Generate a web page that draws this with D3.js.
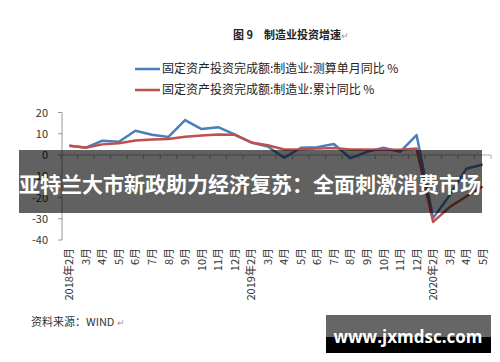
<!DOCTYPE html>
<html>
<head>
<meta charset="utf-8">
<script src="https://cdn.jsdelivr.net/npm/d3@7"></script>
<style>
  body { margin: 0; background: #fff; }
  svg { display: block; font-family: "Noto Sans CJK SC", "Noto Sans", sans-serif; }
</style>
</head>
<body>
<svg width="500" height="362"></svg>
<script>
// Month labels, 2018-02 .. 2020-05
const months = [
	"2018年2月", "3月", "4月", "5月", "6月", "7月", "8月", "9月", "10月", "11月", "12月",
	"2019年2月", "3月", "4月", "5月", "6月", "7月", "8月", "9月", "10月", "11月", "12月",
	"2020年2月", "3月", "4月", "5月"
];
// single-month yoy % (blue)
const singleMonth = [
	4.3, 3.5, 6.7, 6.2, 11.4, 9.5, 8.5, 16.4, 12.2, 13.1, 9.7,
	5.9, 4.0, -1.3, 3.4, 3.7, 5.2, -1.5, 1.5, 3.4, 1.5, 9.4,
	-29.7, -19.0, -6.5, -4.5
];
// cumulative yoy % (red)
const cumulative = [
	4.3, 3.4, 5.0, 5.5, 6.8, 7.3, 7.5, 8.6, 9.2, 9.7, 9.5,
	5.9, 4.6, 2.6, 2.7, 3.0, 3.3, 2.6, 2.6, 2.5, 2.5, 3.1,
	-31.5, -24.5, -19.5, -14.8
];
const yTicks = [20, 10, 0, -10, -20, -30, -40];
const seriesNames = [
	"固定资产投资完成额:制造业:测算单月同比 %",
	"固定资产投资完成额:制造业:累计同比 %"
];

const svg = d3.select("svg");

const x = d3.scaleBand()
	.domain(months.map((d, i) => i))
	.range([61, 491]);
const y = d3.scaleLinear()
	.domain([-40, 20])
	.range([240, 112.5]);

// title
svg.append("text")
	.attr("x", 233).attr("y", 39)
	.attr("font-size", 11).attr("font-weight", "bold").attr("fill", "#222")
	.text("图 9　制造业投资增速");
svg.append("text")
	.attr("x", 341).attr("y", 39)
	.attr("font-size", 9).attr("fill", "#999")
	.text("↵");

// legend
const colors = ["#4a7ebb", "#c0504d"];
seriesNames.forEach((name, i) => {
	const ly = 69 + i * 21;
	svg.append("line")
		.attr("x1", 135).attr("x2", 160)
		.attr("y1", ly).attr("y2", ly)
		.attr("stroke", colors[i]).attr("stroke-width", 2.5);
	svg.append("text")
		.attr("x", 162).attr("y", ly + 4)
		.attr("font-size", 12).attr("fill", "#222")
		.text(name);
});

// y axis
const yAxis = svg.append("g");
yAxis.append("line")
	.attr("x1", 62).attr("x2", 62)
	.attr("y1", y(20)).attr("y2", y(-40))
	.attr("stroke", "#999");
yAxis.selectAll(".ytick")
	.data(yTicks)
	.enter()
	.append("line")
	.attr("x1", 58).attr("x2", 62)
	.attr("y1", (d) => y(d)).attr("y2", (d) => y(d))
	.attr("stroke", "#999");
yAxis.selectAll("text")
	.data(yTicks)
	.enter()
	.append("text")
	.attr("x", 48).attr("y", (d) => y(d) + 4)
	.attr("text-anchor", "end")
	.attr("font-size", 11).attr("fill", "#333")
	.text((d) => d);

// x axis at zero
const xAxis = svg.append("g");
xAxis.append("line")
	.attr("x1", 62).attr("x2", 491)
	.attr("y1", y(0)).attr("y2", y(0))
	.attr("stroke", "#aaa");
xAxis.selectAll(".xtick")
	.data(months.map((d, i) => i).concat([months.length]))
	.enter()
	.append("line")
	.attr("x1", (d) => d < months.length ? x(d) : x(d - 1) + x.bandwidth())
	.attr("x2", (d) => d < months.length ? x(d) : x(d - 1) + x.bandwidth())
	.attr("y1", y(0)).attr("y2", y(0) + 4)
	.attr("stroke", "#aaa");
xAxis.selectAll("text")
	.data(months)
	.enter()
	.append("text")
	.attr("transform", (d, i) => `translate(${x(i) + x.bandwidth() / 2 + 4},248) rotate(-90)`)
	.attr("text-anchor", "end")
	.attr("font-size", 11).attr("fill", "#333")
	.text((d) => d);

// lines
const line = d3.line()
	.x((d, i) => x(i) + x.bandwidth() / 2)
	.y((d) => y(d));
[singleMonth, cumulative].forEach((data, i) => {
	svg.append("path")
		.datum(data)
		.attr("d", line)
		.attr("fill", "none")
		.attr("stroke", colors[i])
		.attr("stroke-width", 2.5)
		.attr("stroke-linejoin", "round");
});

// source
svg.append("text")
	.attr("x", 31).attr("y", 326)
	.attr("font-size", 11).attr("fill", "#333")
	.text("资料来源：WIND");
svg.append("text")
	.attr("x", 117).attr("y", 326)
	.attr("font-size", 9).attr("fill", "#999")
	.text("↵");

// headline banner over the chart
svg.append("rect")
	.attr("x", 19).attr("y", 150)
	.attr("width", 463).attr("height", 63)
	.attr("fill", "rgba(0,0,0,0.62)");
svg.append("text")
	.attr("x", 250).attr("y", 192)
	.attr("text-anchor", "middle")
	.attr("font-size", 21).attr("font-weight", "bold").attr("fill", "#fff")
	.text("亚特兰大市新政助力经济复苏：全面刺激消费市场");

// watermark
svg.append("rect")
	.attr("x", 326).attr("y", 315)
	.attr("width", 165).attr("height", 22)
	.attr("fill", "#666");
svg.append("rect")
	.attr("x", 326).attr("y", 337)
	.attr("width", 165).attr("height", 16)
	.attr("fill", "#000");
svg.append("text")
	.attr("x", 408).attr("y", 343)
	.attr("text-anchor", "middle")
	.attr("font-family", "'Open Sans', sans-serif")
	.attr("font-size", 17).attr("font-weight", "bold").attr("fill", "#fff")
	.text("www.jxmdsc.com");
</script>
</body>
</html>
